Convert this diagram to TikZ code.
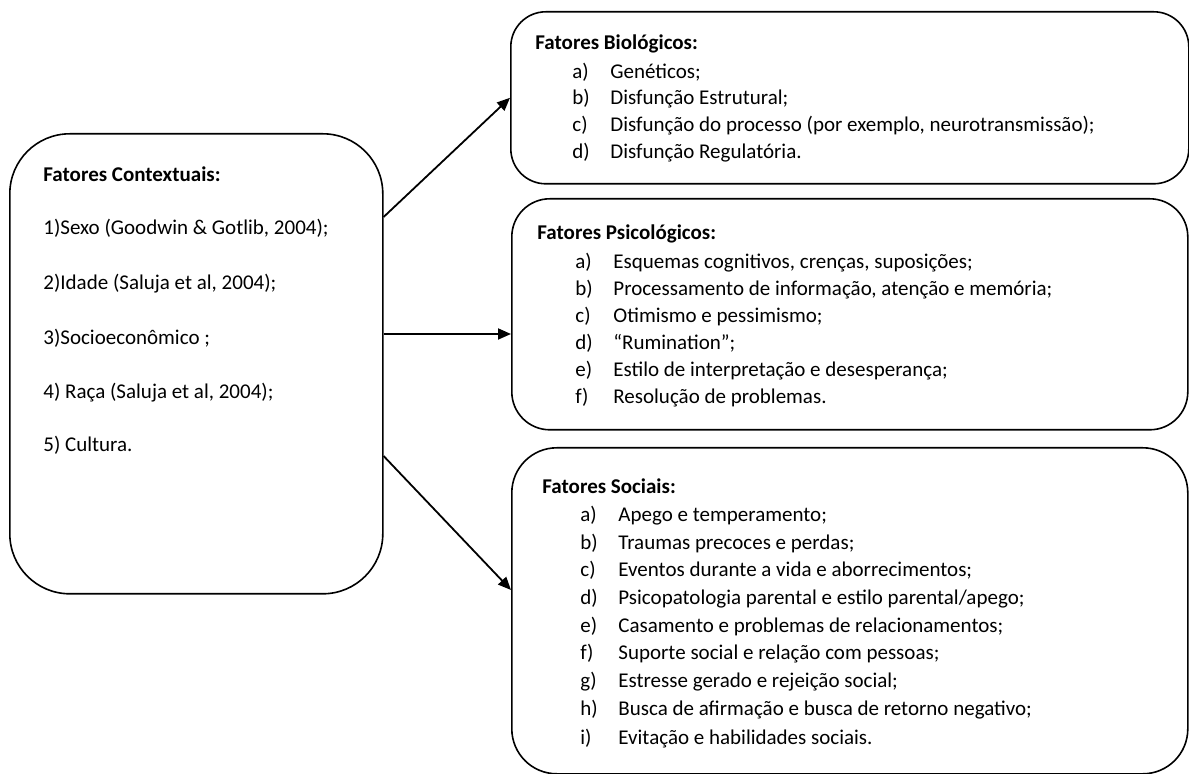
\documentclass[tikz,border=0pt]{standalone}
\usepackage{fontspec}
\setmainfont{Carlito}
\usetikzlibrary{arrows.meta,calc}
\begin{document}
\begin{tikzpicture}[x=0.5pt,y=-0.5pt,
  rbox/.style={draw=black,line width=0.8pt,rounded corners=#1,anchor=north west,inner sep=0pt},
  txt/.style={anchor=base west,inner sep=0pt,font=\fontsize{10.5pt}{12pt}\selectfont},
  ttl/.style={anchor=base west,inner sep=0pt,font=\fontsize{10.5pt}{12pt}\selectfont\bfseries},
  arr/.style={line width=0.9pt,-{Triangle[length=6.5pt,width=5.5pt]}}]
\useasboundingbox (0,0) rectangle (1189,774);

% boxes
\node[rbox=30pt, minimum width=186.5pt, minimum height=230pt] (ctx) at (9,133) {};
\node[rbox=17.5pt, minimum width=339pt, minimum height=86pt] (bio) at (510,11) {};
\node[rbox=19pt, minimum width=338pt, minimum height=115.5pt] (psi) at (511,198) {};
\node[rbox=22.5pt, minimum width=338pt, minimum height=163pt] (soc) at (511,447) {};

% arrows
\draw[arr] ([yshift=-42pt]ctx.north east) -- (bio.west);
\draw[arr] ([yshift=-100.5pt]ctx.north east) -- ([yshift=-100.5pt]ctx.north east -| psi.west);
\draw[arr] ([yshift=-161.5pt]ctx.north east) -- ([yshift=-71.5pt]soc.north west);

% contextual
\node[ttl] (c0) at (43,182) {Fatores Contextuais:};
\node[txt] (c1) at (43,235) {1)Sexo (Goodwin \& Gotlib, 2004);};
\node[txt] (c2) at (43,290) {2)Idade (Saluja et al, 2004);};
\node[txt] (c3) at (43,345) {3)Socioeconômico ;};
\node[txt] (c4) at (43,399) {4) Raça (Saluja et al, 2004);};
\node[txt] (c5) at (43,452) {5) Cultura.};

% biological
\node[ttl] (b0) at (535,50) {Fatores Biológicos:};
\node[txt] (bl1) at (572,79) {a)};  \node[txt] (bt1) at (610,79) {Genéticos;};
\node[txt] (bl2) at (572,105) {b)}; \node[txt] (bt2) at (610,105) {Disfunção Estrutural;};
\node[txt] (bl3) at (572,132) {c)}; \node[txt] (bt3) at (610,132) {Disfunção do processo (por exemplo, neurotransmissão);};
\node[txt] (bl4) at (572,159) {d)}; \node[txt] (bt4) at (610,159) {Disfunção Regulatória.};

% psychological
\node[ttl] (p0) at (537,240) {Fatores Psicológicos:};
\node[txt] (pl1) at (575,269) {a)}; \node[txt] (pt1) at (613,269) {Esquemas cognitivos, crenças, suposições;};
\node[txt] (pl2) at (575,296) {b)}; \node[txt] (pt2) at (613,296) {Processamento de informação, atenção e memória;};
\node[txt] (pl3) at (575,323) {c)}; \node[txt] (pt3) at (613,323) {Otimismo e pessimismo;};
\node[txt] (pl4) at (575,350) {d)}; \node[txt] (pt4) at (613,350) {“Rumination”;};
\node[txt] (pl5) at (575,377) {e)}; \node[txt] (pt5) at (613,377) {Estilo de interpretação e desesperança;};
\node[txt] (pl6) at (575,404) {f)}; \node[txt] (pt6) at (613,404) {Resolução de problemas.};

% social
\node[ttl] (s0) at (542,494) {Fatores Sociais:};
\node[txt] (sl1) at (580,522) {a)}; \node[txt] (st1) at (618,522) {Apego e temperamento;};
\node[txt] (sl2) at (580,550) {b)}; \node[txt] (st2) at (618,550) {Traumas precoces e perdas;};
\node[txt] (sl3) at (580,577) {c)}; \node[txt] (st3) at (618,577) {Eventos durante a vida e aborrecimentos;};
\node[txt] (sl4) at (580,605) {d)}; \node[txt] (st4) at (618,605) {Psicopatologia parental e estilo parental/apego;};
\node[txt] (sl5) at (580,633) {e)}; \node[txt] (st5) at (618,633) {Casamento e problemas de relacionamentos;};
\node[txt] (sl6) at (580,660) {f)}; \node[txt] (st6) at (618,660) {Suporte social e relação com pessoas;};
\node[txt] (sl7) at (580,688) {g)}; \node[txt] (st7) at (618,688) {Estresse gerado e rejeição social;};
\node[txt] (sl8) at (580,716) {h)}; \node[txt] (st8) at (618,716) {Busca de afirmação e busca de retorno negativo;};
\node[txt] (sl9) at (580,744) {i)}; \node[txt] (st9) at (618,744) {Evitação e habilidades sociais.};
\end{tikzpicture}
\end{document}
